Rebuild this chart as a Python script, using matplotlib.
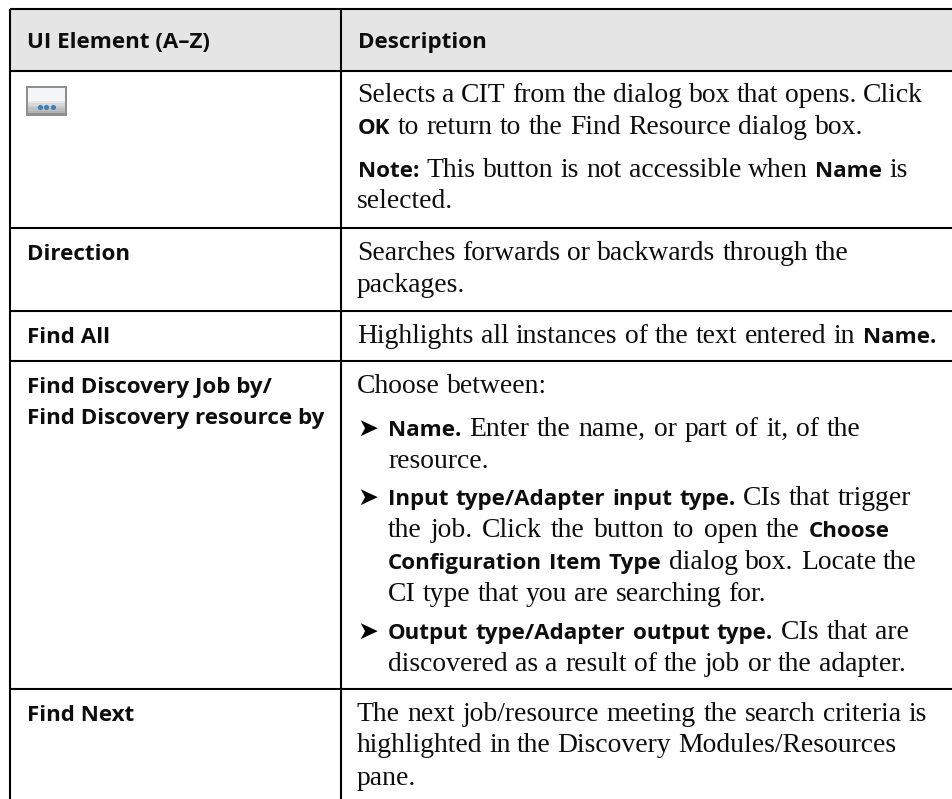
import matplotlib
matplotlib.use('Agg')
import matplotlib.pyplot as plt
from matplotlib.patches import Rectangle

W, H = 953, 799
SANS = ['Open Sans', 'DejaVu Sans']
SERIF = ['Liberation Serif', 'DejaVu Serif']
SIZE_B = 16.1
SIZE_S = 19.9
INK = '#0d0d0d'

headers = ['UI Element (A–Z)', 'Description']

left_col = [
    ('Direction', 260),
    ('Find All', 343),
    ('Find Discovery Job by/', 393),
    ('Find Discovery resource by', 424),
    ('Find Next', 721),
]

# (baseline y, x start, x end, runs), b = bold sans, s = serif
right_col = [
    (102, 357, 923, [('s', 'Selects a CIT from the dialog box that opens. Click')]),
    (134, 358, 863, [('b', 'OK'), ('s', 'to return to the Find Resource dialog box.')]),
    (177, 358, 908, [('b', 'Note:'), ('s', 'This button is not accessible when'), ('b', 'Name'), ('s', 'is')]),
    (208, 357, 450, [('s', 'selected.')]),
    (260, 357, 849, [('s', 'Searches forwards or backwards through the')]),
    (292, 357, 460, [('s', 'packages.')]),
    (343, 357, 936, [('s', 'Highlights all instances of the text entered in'), ('b', 'Name.')]),
    (393, 357, 547, [('s', 'Choose between:')]),
    (436, 388, 861, [('b', 'Name.'), ('s', 'Enter the name, or part of it, of the')]),
    (468, 388, 485, [('s', 'resource.')]),
    (505, 388, 911, [('b', 'Input type/Adapter input type.'), ('s', 'CIs that trigger')]),
    (537, 388, 890, [('s', 'the job. Click the button to open the'), ('b', 'Choose')]),
    (569, 388, 917, [('b', 'Configuration Item Type'), ('s', 'dialog box. Locate the')]),
    (601, 388, 766, [('s', 'CI type that you are searching for.')]),
    (639, 388, 909, [('b', 'Output type/Adapter output type.'), ('s', 'CIs that are')]),
    (671, 388, 906, [('s', 'discovered as a result of the job or the adapter.')]),
    (721, 357, 927, [('s', 'The next job/resource meeting the search criteria is')]),
    (752, 357, 896, [('s', 'highlighted in the Discovery Modules/Resources')]),
    (785, 357, 417, [('s', 'pane.')]),
]
bullet_rows = [436, 505, 639]
row_lines = [9, 71, 228, 311, 361, 689]

fig = plt.figure(figsize=(W / 100, H / 100), dpi=100)
ax = fig.add_axes([0, 0, 1, 1])
ax.set_xlim(0, W)
ax.set_ylim(H, 0)
ax.axis('off')

# header band, table runs off the right and bottom edge
ax.add_patch(Rectangle((10, 9), W - 10, 62, fc='#e5e5e5', ec='none', zorder=0))

for y in row_lines:
    ax.plot([10, W], [y, y], c='black', lw=1.5, solid_capstyle='butt')
for x in [10, 341]:
    ax.plot([x, x], [9, H], c='black', lw=1.5, solid_capstyle='butt')

# button icon
ax.add_patch(Rectangle((26, 86), 41, 30, fc='#8f8f8f', ec='none'))
ax.add_patch(Rectangle((28, 88), 37, 13, fc='#f4f5f6', ec='none'))
for i, c in enumerate(['#e6e7e8', '#d6d8da', '#c8cacc', '#bcbec0', '#b0b2b4']):
    ax.add_patch(Rectangle((28, 101 + i * 2.4), 37, 2.4, fc=c, ec='none'))
ax.scatter([40, 46.5, 53], [106.5, 106.5, 106.5], s=14, c='#3f7fb5', linewidths=0, zorder=3)

fig.canvas.draw()
rend = fig.canvas.get_renderer()


def draw_line(y, x0, x1, runs):
    # one text per word, spaces stretched so the line ends where it should
    words = []
    for kind, txt in runs:
        for w in txt.split(' '):
            if kind == 'b':
                t = ax.text(x0, y, w, family=SANS, weight='bold', fontsize=SIZE_B, va='baseline', color=INK)
            else:
                t = ax.text(x0, y, w, family=SERIF, fontsize=SIZE_S, va='baseline', color=INK)
            words.append((t, t.get_window_extent(rend).width))
    if len(words) < 2:
        return
    gap = (x1 - x0 - sum(w for t, w in words)) / (len(words) - 1)
    x = x0
    for t, w in words:
        t.set_x(x)
        x += w + gap


for label, x in zip(headers, [27, 358]):
    ax.text(x, 48, label, family=SANS, weight='bold', fontsize=SIZE_B, va='baseline', color=INK)

for label, y in left_col:
    ax.text(27, y, label, family=SANS, weight='bold', fontsize=SIZE_B, va='baseline', color=INK)

for y in bullet_rows:
    ax.text(357, y, '➤', family=['DejaVu Sans'], fontsize=18, weight='bold', va='baseline', color='black')

for y, x0, x1, runs in right_col:
    draw_line(y, x0, x1, runs)

fig.savefig('out.png', dpi=100)
